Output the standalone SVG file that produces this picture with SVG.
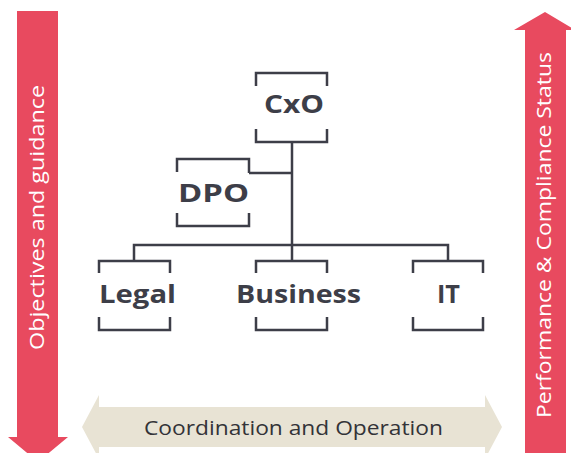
<svg xmlns="http://www.w3.org/2000/svg" width="571" height="453" viewBox="0 0 571 453">
<style>
.arrow{fill:#e84a5f}
.coord{fill:#e8e3d4}
.side{font-family:"Open Sans","Liberation Sans",sans-serif;font-size:20px;fill:#ffffff;text-anchor:middle}
.coordtxt{font-family:"Open Sans","Liberation Sans",sans-serif;font-size:20px;fill:#333338;text-anchor:middle}
.br{fill:none;stroke:#3d3e48;stroke-width:2.5}
.lbl{font-family:"Open Sans","Liberation Sans",sans-serif;font-weight:bold;font-size:25px;fill:#3d3e48;text-anchor:middle}
.conn{fill:none;stroke:#3d3e48;stroke-width:2.5}
</style>
<rect width="571" height="453" fill="#ffffff"/>
<g id="arrow-objectives">
<polygon class="arrow" points="17,11 58,11 58,437 68,437 38,462 8,437 17,437"/>
<text class="side" transform="translate(44,217.5) rotate(-90)" textLength="265" lengthAdjust="spacingAndGlyphs">Objectives and guidance</text>
</g>
<g id="arrow-performance">
<polygon class="arrow" points="525,453 525,30 514,30 545,12 575,30 566,30 566,453"/>
<text class="side" transform="translate(551,235) rotate(-90)" textLength="366" lengthAdjust="spacingAndGlyphs">Performance &amp; Compliance Status</text>
</g>
<g id="arrow-coordination">
<polygon class="coord" points="82,427 99,395 99,407 485,407 485,395 502,427 485,459 485,447 99,447 99,459"/>
<text class="coordtxt" x="293.5" y="435" textLength="299" lengthAdjust="spacingAndGlyphs">Coordination and Operation</text>
</g>
<g id="connectors">
<path class="conn" d="M292,142 V261"/>
<path class="conn" d="M249,173 H292"/>
<path class="conn" d="M134,261 V245 H448 V261"/>
</g>
<g id="node-cxo">
<path class="br" d="M256,86 V73 H327 V86"/>
<path class="br" d="M256,129 V142 H327 V129"/>
<text class="lbl" x="294" y="113" textLength="60" lengthAdjust="spacingAndGlyphs">CxO</text>
</g>
<g id="node-dpo">
<path class="br" d="M177,172 V159 H249 V173"/>
<path class="br" d="M177,213 V226 H249 V213"/>
<text class="lbl" x="213.5" y="202" textLength="71" lengthAdjust="spacingAndGlyphs">DPO</text>
</g>
<g id="node-legal">
<path class="br" d="M99,273 V261 H170 V273"/>
<path class="br" d="M99,317 V330 H170 V317"/>
<text class="lbl" x="137.5" y="303" textLength="77" lengthAdjust="spacingAndGlyphs">Legal</text>
</g>
<g id="node-business">
<path class="br" d="M256,273 V261 H327 V273"/>
<path class="br" d="M256,317 V330 H327 V317"/>
<text class="lbl" x="298.5" y="303" textLength="125" lengthAdjust="spacingAndGlyphs">Business</text>
</g>
<g id="node-it">
<path class="br" d="M413,273 V261 H483 V273"/>
<path class="br" d="M413,317 V330 H483 V317"/>
<text class="lbl" x="448.5" y="303" textLength="23" lengthAdjust="spacingAndGlyphs">IT</text>
</g>
</svg>
